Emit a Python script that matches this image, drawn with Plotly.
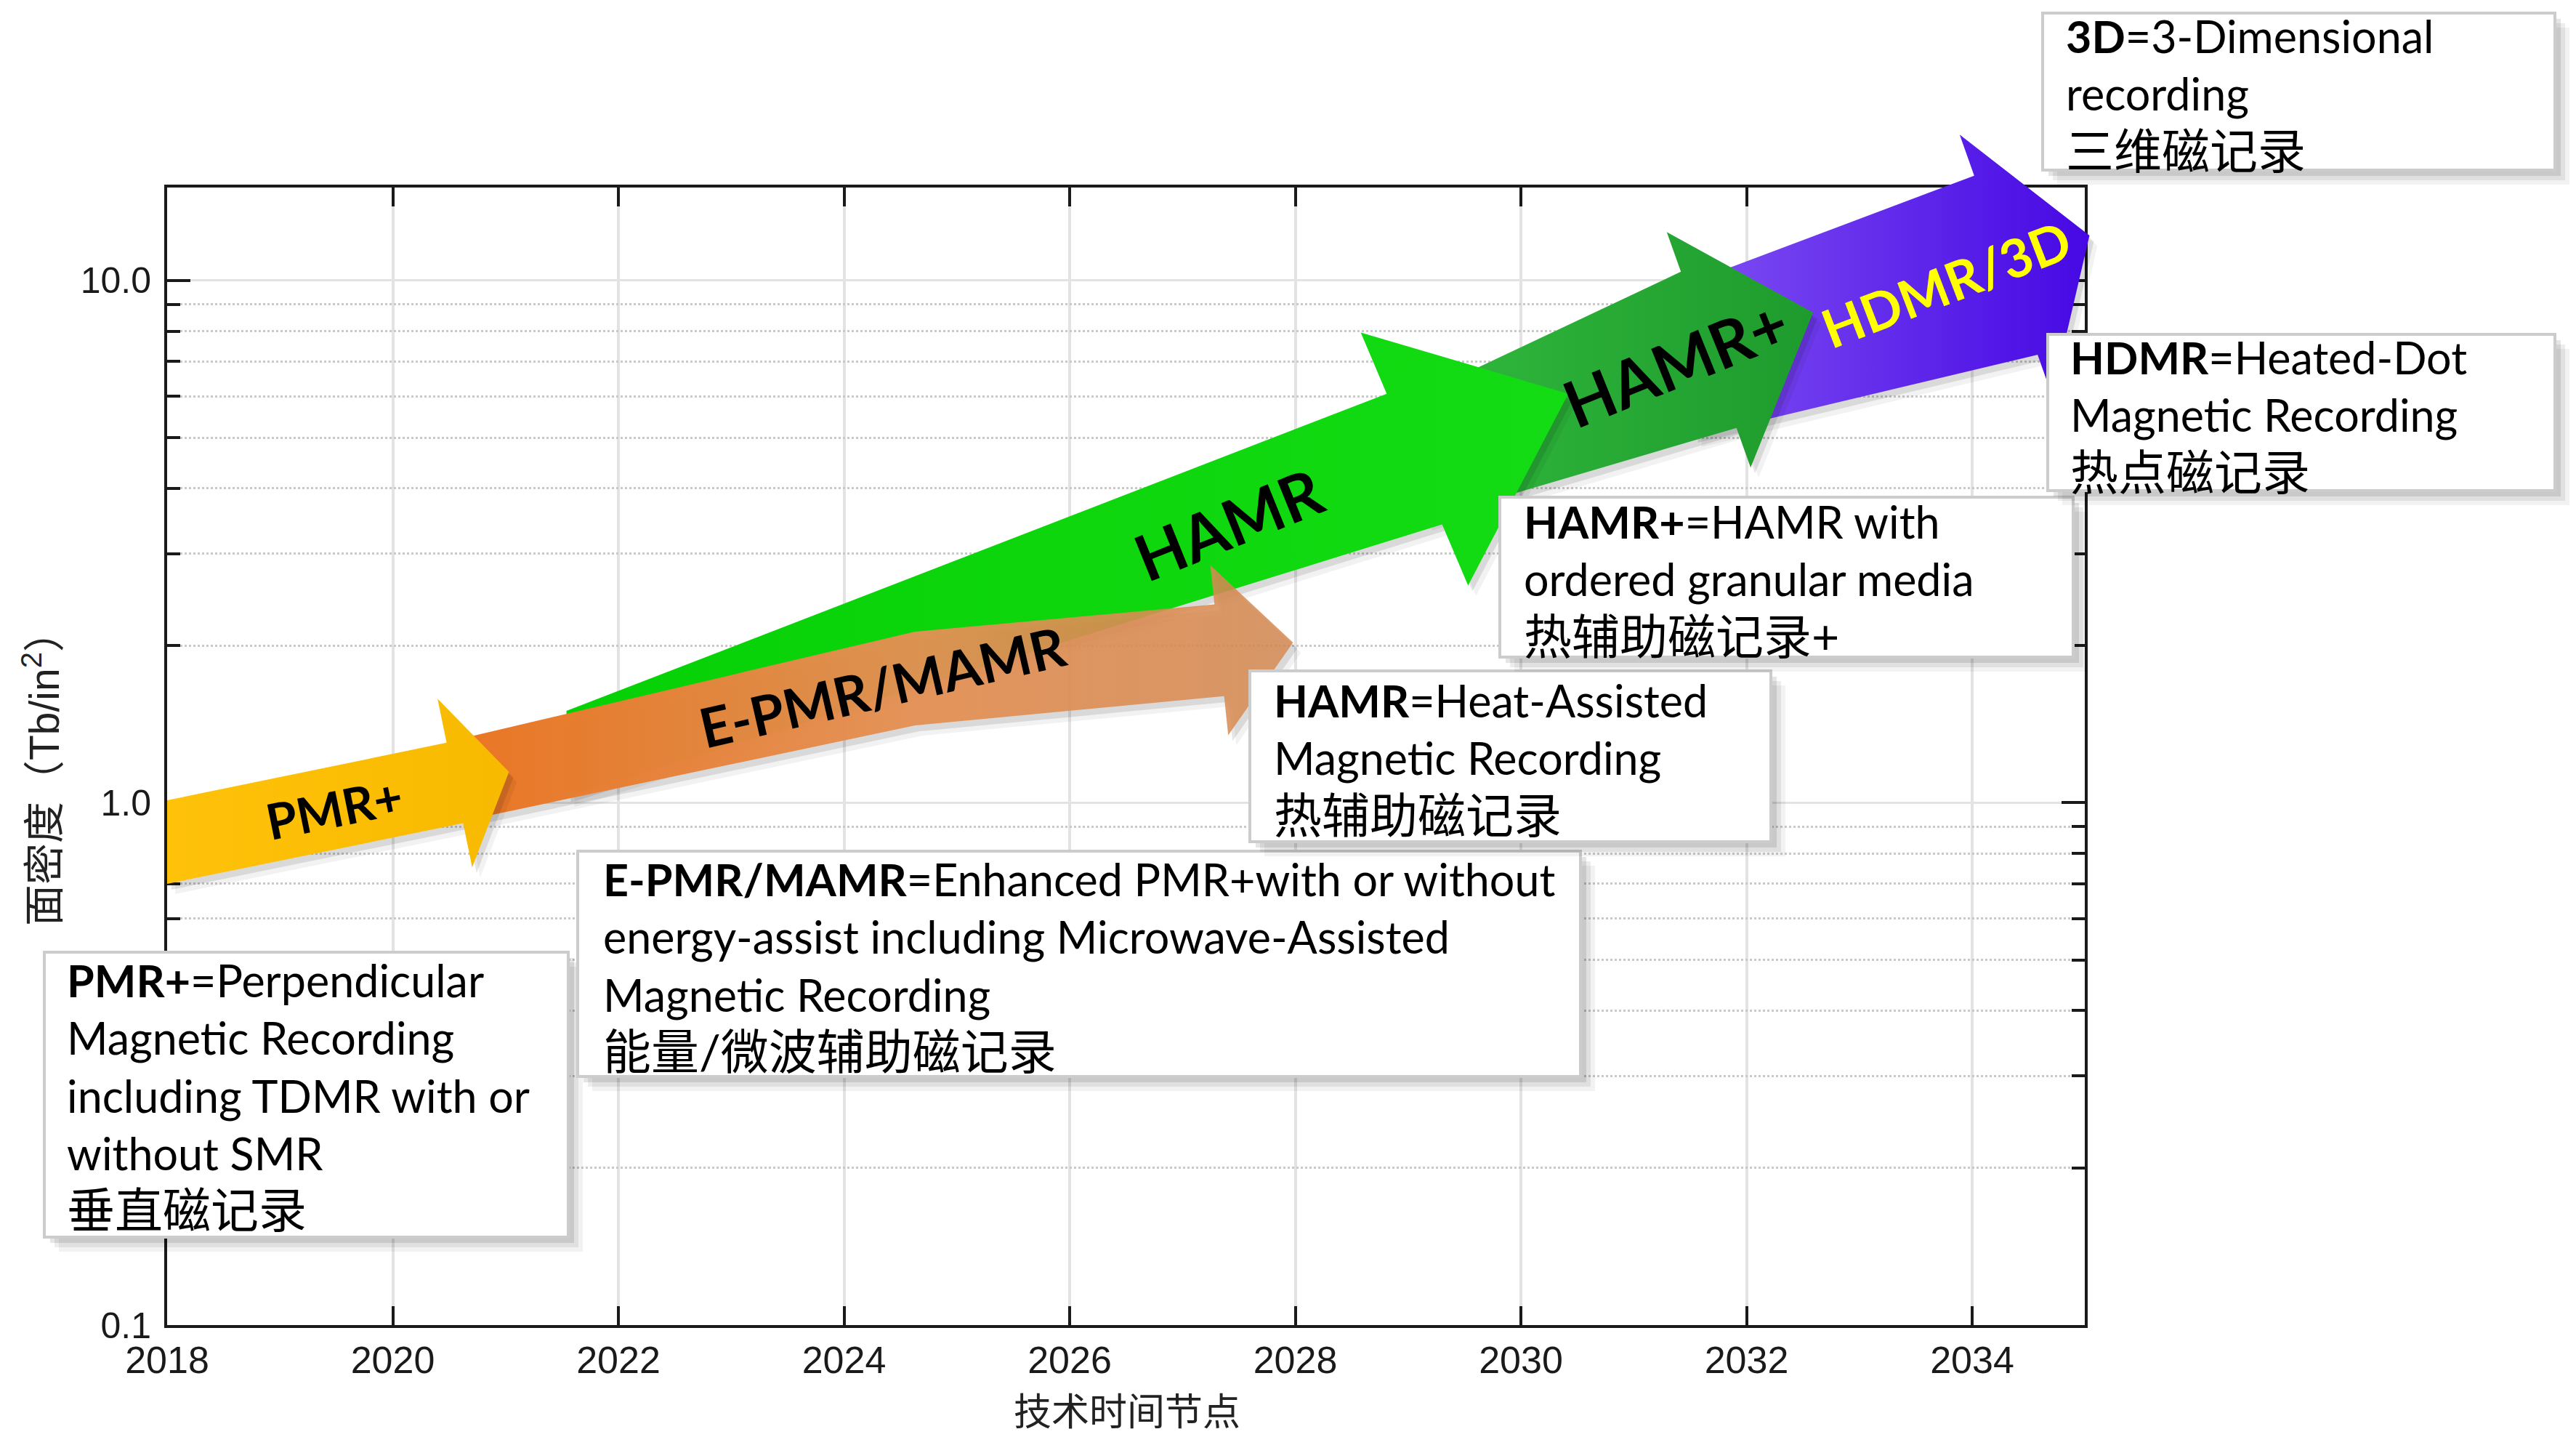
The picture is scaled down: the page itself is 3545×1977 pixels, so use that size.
import math
import plotly.graph_objects as go

# ---------------- data ----------------
years = [2018, 2020, 2022, 2024, 2026, 2028, 2030, 2032, 2034]
year_labels = [str(y) for y in years]
density_major = [0.1, 1.0, 10.0]
density_major_labels = ["0.1", "1.0", "10.0"]
density_minor = [0.2, 0.3, 0.4, 0.5, 0.6, 0.7, 0.8, 0.9, 2, 3, 4, 5, 6, 7, 8, 9]

tech = ["PMR+", "E-PMR/MAMR", "HAMR", "HAMR+", "HDMR/3D"]
tail_year = [2018.0, 2020.64, 2021.54, 2029.14, 2031.53]
tail_density = [0.841, 1.110, 1.241, 4.60, 7.07]
bend_year = [None, 2024.63, None, None, None]
bend_density = [None, 1.729, None, None, None]
tip_year = [2021.03, 2027.98, 2030.42, 2032.59, 2035.04]
tip_density = [1.146, 2.027, 6.07, 8.68, 12.19]
label_year = [2019.48, 2024.34, 2027.41, 2031.37, 2033.77]

box_texts = [
    "<b>PMR+</b>=Perpendicular<br>Magnetic Recording<br>including TDMR with or<br>without SMR<br>"
    "<span style='font-size:66px'>垂直磁记录</span>",
    "<b>E-PMR/MAMR</b>=Enhanced PMR+with or without<br>energy-assist including Microwave-Assisted<br>"
    "Magnetic Recording<br><span style='font-size:66px'>能量/微波辅助磁记录</span>",
    "<b>HAMR</b>=Heat-Assisted<br>Magnetic Recording<br><span style='font-size:66px'>热辅助磁记录</span>",
    "<b>HAMR+</b>=HAMR with<br>ordered granular media<br><span style='font-size:66px'>热辅助磁记录+</span>",
    "<b>HDMR</b>=Heated-Dot<br>Magnetic Recording<br><span style='font-size:66px'>热点磁记录</span>",
    "<b>3D</b>=3-Dimensional<br>recording<br><span style='font-size:66px'>三维磁记录</span>",
]

# ---------------- layout constants (pixels) ----------------
W, H = 3545, 1977
PL, PR, PT, PB = 230.0, 2869.25, 258.0, 1823.0
X0, X1 = 2018, 2035
LOG0, LOG1 = -1.0, 1.178
ppy = (PR - PL) / (X1 - X0)
ppd = (PB - PT) / (LOG1 - LOG0)


def to_px(year, dens):
    return PL + (year - X0) * ppy, PT + (LOG1 - math.log10(dens)) * ppd


def from_px(x, y):
    return X0 + (x - PL) / ppy, 10 ** (LOG1 - (y - PT) / ppd)


def paper(x, y):
    return x / W, 1 - y / H


# arrow styles (pixel sizes)
arrow_style = [
    dict(tail_hw=57.5, bend_hw=None, shaft_hw=56.5, head_hw=118.5, head_len=76, angle=11.6,
         colors=[[0, "#FFC20A"], [1, "#F8BA00"]], lsize=68, langle=-11.5, lcolor="black"),
    dict(tail_hw=57, bend_hw=64.5, shaft_hw=63.5, head_hw=117.5, head_len=102, angle=6.0,
         colors=[[0, "rgba(233,118,36,1)"], [0.55, "rgba(228,145,85,0.96)"], [1, "rgba(214,138,82,0.84)"]],
         lsize=75, langle=-13, lcolor="black"),
    dict(tail_hw=59, bend_hw=None, shaft_hw=97.6, head_hw=189, head_len=230, angle=23.0,
         colors=[[0, "#06D006"], [1, "#14DC14"]], lsize=88, langle=-22, lcolor="black"),
    dict(tail_hw=87.5, bend_hw=None, shaft_hw=114, head_hw=172, head_len=152.5, angle=19.6,
         colors=[[0, "#31B83D"], [1, "#1E9B2D"]], lsize=89, langle=-22, lcolor="black"),
    dict(tail_hw=107, bend_hw=None, shaft_hw=130.7, head_hw=190.6, head_len=122, angle=19.5,
         colors=[[0, "#7E4DF2"], [1, "#4608E4"]], lsize=73, langle=-21, lcolor="#FFFF00"),
]
draw_order = [4, 3, 2, 1, 0]

# box rectangles (px) and text anchors (px)
box_rects = [(61, 1310, 782, 1702), (795, 1171, 2175, 1481), (1720, 923, 2437, 1158),
             (2064, 684, 2853, 904), (2818, 460, 3516, 675), (2811, 18, 3516, 234)]
box_text_anchor = [(90, 1507), (828, 1329), (1751, 1043), (2095, 797), (2847, 571), (2841, 129)]


def arrow_geometry(i):
    st = arrow_style[i]
    tx, ty = to_px(tail_year[i], tail_density[i])
    qx, qy = to_px(tip_year[i], tip_density[i])
    a = math.radians(st["angle"])
    dx, dy = math.cos(a), -math.sin(a)
    nx, ny = dy, -dx
    L = st["head_len"]
    bx, by = qx - dx * L, qy - dy * L
    top = [(tx, ty - st["tail_hw"])]
    bot = [(tx, ty + st["tail_hw"])]
    center = [(tx, ty)]
    if bend_year[i] is not None:
        mx, my = to_px(bend_year[i], bend_density[i])
        top.append((mx, my - st["bend_hw"]))
        bot.append((mx, my + st["bend_hw"]))
        center.append((mx, my))
    wb, wh = st["shaft_hw"], st["head_hw"]
    top += [(bx + nx * wb, by + ny * wb), (bx + nx * wh, by + ny * wh)]
    bot += [(bx - nx * wb, by - ny * wb), (bx - nx * wh, by - ny * wh)]
    center.append((bx, by))
    poly = top + [(qx, qy)] + bot[::-1]
    poly.append(poly[0])
    return poly, center


fig = go.Figure()

# invisible traces to register the major and minor-tick axes
fig.add_trace(go.Scatter(x=[2018], y=[1], xaxis="x", yaxis="y3", mode="markers",
                         marker=dict(opacity=0), hoverinfo="skip", showlegend=False))
fig.add_trace(go.Scatter(x=[2018], y=[1], xaxis="x", yaxis="y", mode="markers",
                         marker=dict(opacity=0), hoverinfo="skip", showlegend=False))

label_annots = []
for i in draw_order:
    poly, center = arrow_geometry(i)
    # soft shadow
    for (ox, oy, al) in [(11, 14, 0.05), (6, 8, 0.10)]:
        pts = [from_px(x + ox, y + oy) for x, y in poly]
        fig.add_trace(go.Scatter(x=[p[0] for p in pts], y=[p[1] for p in pts], xaxis="x2", yaxis="y2",
                                 mode="lines", fill="toself", fillcolor=f"rgba(0,0,0,{al})",
                                 line=dict(width=0), hoverinfo="skip", showlegend=False))
    pts = [from_px(x, y) for x, y in poly]
    fig.add_trace(go.Scatter(x=[p[0] for p in pts], y=[p[1] for p in pts], xaxis="x2", yaxis="y2",
                             mode="lines", fill="toself",
                             fillgradient=dict(type="horizontal", colorscale=arrow_style[i]["colors"]),
                             line=dict(width=0), hoverinfo="skip", showlegend=False, name=tech[i]))
    # label on centerline
    lx, _ = to_px(label_year[i], 1.0)
    ly = center[-1][1]
    for (ax_, ay_), (bx_, by_) in zip(center[:-1], center[1:]):
        if ax_ <= lx <= bx_:
            ly = ay_ + (lx - ax_) / (bx_ - ax_) * (by_ - ay_)
            break
    px_, py_ = paper(lx, ly)
    st = arrow_style[i]
    label_annots.append(dict(x=px_, y=py_, xref="paper", yref="paper", text=f"<b>{tech[i]}</b>",
                             showarrow=False, textangle=st["langle"], xanchor="center", yanchor="middle",
                             font=dict(family="Lato, 'Noto Sans', sans-serif", size=st["lsize"],
                                       color=st["lcolor"])))

shapes = []
annots = list(label_annots)
for (x0, y0, x1, y1), txt, (tx, ty) in zip(box_rects, box_texts, box_text_anchor):
    for off, al in [(20, 0.05), (14, 0.07), (8, 0.10)]:
        a0 = paper(x0 + off, y0 + off)
        a1 = paper(x1 + off, y1 + off)
        shapes.append(dict(type="rect", xref="paper", yref="paper", x0=a0[0], y0=a0[1], x1=a1[0], y1=a1[1],
                           fillcolor=f"rgba(0,0,0,{al})", line=dict(width=0), layer="above"))
    a0 = paper(x0, y0)
    a1 = paper(x1, y1)
    shapes.append(dict(type="rect", xref="paper", yref="paper", x0=a0[0], y0=a0[1], x1=a1[0], y1=a1[1],
                       fillcolor="white", line=dict(color="#cccccc", width=4), layer="above"))
    p = paper(tx, ty)
    annots.append(dict(x=p[0], y=p[1], xref="paper", yref="paper", text=txt, showarrow=False,
                       xanchor="left", yanchor="middle", align="left",
                       font=dict(family="Lato, 'Noto Sans CJK SC', sans-serif", size=61, color="black")))

# axis titles
p = paper(1551, 1938)
annots.append(dict(x=p[0], y=p[1], xref="paper", yref="paper", text="技术时间节点", showarrow=False,
                   xanchor="center", yanchor="middle", borderpad=0,
                   font=dict(family="'Noto Sans CJK SC', sans-serif", size=52, color="#222222")))
p = paper(57, 1057)
annots.append(dict(x=p[0], y=p[1], xref="paper", yref="paper", text="面密度（Tb/in<sup>2</sup>）",
                   showarrow=False, textangle=-90, xanchor="center", yanchor="middle",
                   font=dict(family="'Liberation Sans', 'Noto Sans CJK SC', sans-serif", size=57,
                             color="#222222")))

axis_color = "#1a1a1a"
tick_font = dict(family="'Liberation Sans', Arial, sans-serif", size=52, color="#1a1a1a")

fig.update_layout(
    width=W, height=H, autosize=False,
    margin=dict(l=0, r=0, t=0, b=0, pad=0, autoexpand=False),
    paper_bgcolor="white", plot_bgcolor="rgba(0,0,0,0)",
    showlegend=False,
    xaxis=dict(domain=[PL / W, PR / W], range=[X0, X1], tickvals=years, ticktext=year_labels,
               ticks="inside", ticklen=26, tickwidth=4, tickcolor=axis_color,
               showline=True, linewidth=4, linecolor=axis_color, mirror="ticks",
               showgrid=True, gridcolor="#e3e3e3", gridwidth=4, zeroline=False, automargin=False,
               tickfont=tick_font, ticklabelstandoff=0, anchor="y", fixedrange=True),
    yaxis=dict(domain=[1 - PB / H, 1 - PT / H], type="log", range=[LOG0, LOG1],
               tickvals=density_major, ticktext=density_major_labels,
               ticks="inside", ticklen=32, tickwidth=4, tickcolor=axis_color,
               showline=True, linewidth=4, linecolor=axis_color, mirror="ticks",
               showgrid=True, gridcolor="#e3e3e3", gridwidth=3, zeroline=False, automargin=False,
               tickfont=dict(family="'Liberation Sans', Arial, sans-serif", size=50, color="#1a1a1a"),
               ticklabelstandoff=8, anchor="x", fixedrange=True),
    yaxis3=dict(overlaying="y", type="log", range=[LOG0, LOG1], tickvals=density_minor,
                showticklabels=False, ticks="inside", ticklen=18, tickwidth=4, tickcolor=axis_color,
                showline=True, linewidth=4, linecolor=axis_color, mirror="ticks",
                showgrid=True, gridcolor="#c9c9c9", gridwidth=3, griddash="dot", zeroline=False,
                automargin=False, anchor="x", fixedrange=True),
    xaxis2=dict(domain=[0, 1], range=[X0 - PL / ppy, X0 + (W - PL) / ppy], visible=False,
                automargin=False, anchor="y2", fixedrange=True),
    yaxis2=dict(domain=[0, 1], type="log", range=[LOG1 - (H - PT) / ppd, LOG1 + PT / ppd],
                visible=False, automargin=False, anchor="x2", fixedrange=True),
    shapes=shapes,
    annotations=annots,
)

fig.write_html("out.html")
